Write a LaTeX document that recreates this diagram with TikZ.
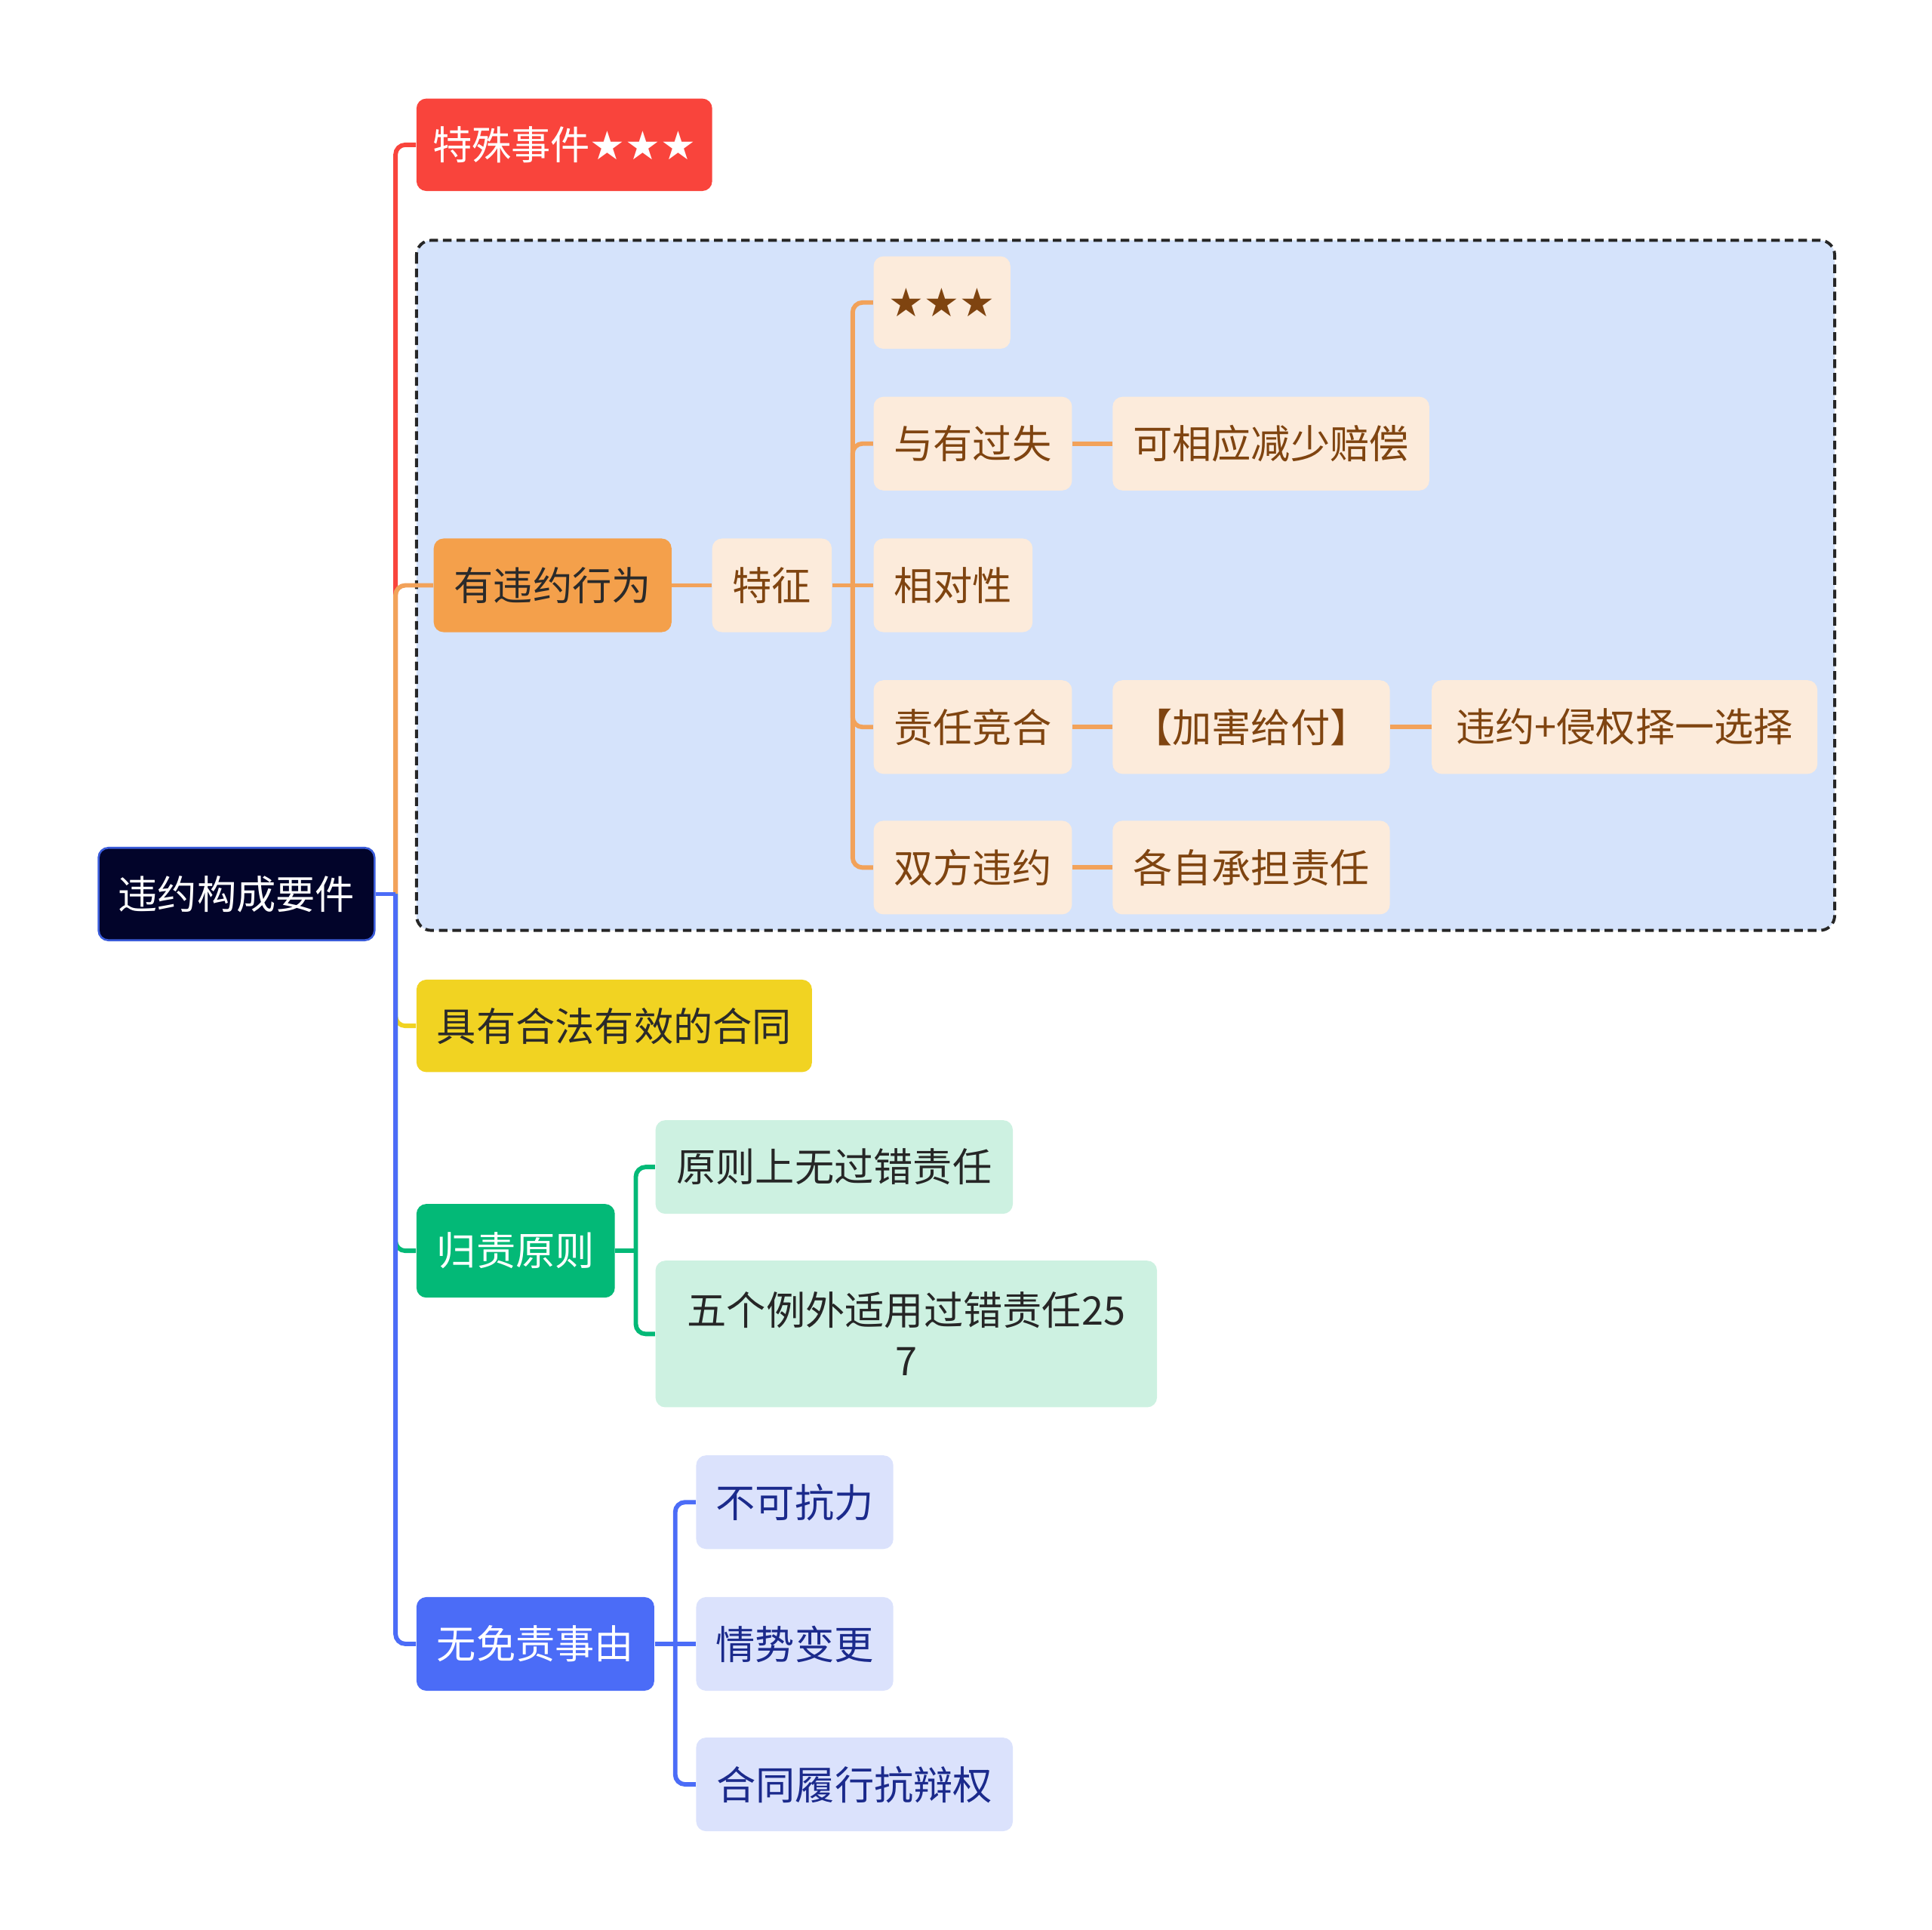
\documentclass[tikz,border=0pt]{standalone}
\usepackage{fontspec}
\newfontfamily\cjk{Noto Sans CJK SC}
\newfontfamily\symf{DejaVu Sans}
\usetikzlibrary{positioning}
\definecolor{redc}{HTML}{F9443C}
\definecolor{orangec}{HTML}{F4A04B}
\definecolor{orangel}{HTML}{F2A25A}
\definecolor{peach}{HTML}{FCEBDB}
\definecolor{brownt}{HTML}{7F4410}
\definecolor{dashfill}{HTML}{D5E3FB}
\definecolor{yellowc}{HTML}{F1D322}
\definecolor{greenc}{HTML}{03B977}
\definecolor{greenl}{HTML}{CDF1E1}
\definecolor{bluec}{HTML}{4B6CF7}
\definecolor{bluel}{HTML}{DBE2FC}
\definecolor{navyt}{HTML}{1B2A8C}
\definecolor{rootc}{HTML}{02042A}
\definecolor{rootb}{HTML}{3A5BD9}
\definecolor{darkt}{HTML}{2A2A2A}
\tikzset{
  box/.style={rounded corners=4pt, inner sep=0pt, align=center,
    font=\cjk\fontsize{16pt}{20.5pt}\selectfont},
  rootbox/.style={box, fill=rootc, draw=rootb, line width=0.8pt, text=white},
  redbox/.style={box, fill=redc, text=white},
  orangebox/.style={box, fill=orangec, text=darkt},
  peachbox/.style={box, fill=peach, text=brownt},
  yellowbox/.style={box, fill=yellowc, text=darkt},
  greenbox/.style={box, fill=greenc, text=white},
  lgreenbox/.style={box, fill=greenl, text=black!85},
  bluebox/.style={box, fill=bluec, text=white},
  lbluebox/.style={box, fill=bluel, text=navyt},
  conn/.style={line width=1.8pt, rounded corners=4pt},
}
\begin{document}
\begin{tikzpicture}[x=0.5pt,y=-0.5pt]
\useasboundingbox (0,0) rectangle (1568,1566);
% dashed group
\draw[fill=dashfill, draw=black!85, line width=1.2pt, dash pattern=on 3.5pt off 2pt, rounded corners=6pt] (338,195) rectangle (1489,755);

% nodes
\node[rootbox, minimum width=112pt, minimum height=37.5pt] (root) at (192,725.5) {违约构成要件};
\node[redbox, minimum width=120pt, minimum height=37.5pt] (spec) at (458,117.5) {特殊事件{\symf ★★★}};
\node[orangebox, minimum width=96.5pt, minimum height=38pt] (act) at (448.5,475) {有违约行为};
\node[peachbox, minimum width=48.5pt, minimum height=38pt] (feat) at (626.5,475) {特征};
\node[peachbox, minimum width=55.5pt, minimum height=37.5pt] (stars) at (764.5,245.5) {\symf ★★★};
\node[peachbox, minimum width=80.5pt, minimum height=38pt] (yy) at (789.5,360) {与有过失};
\node[peachbox, minimum width=128.5pt, minimum height=38pt] (yy2) at (1031.5,360) {可相应减少赔偿};
\node[peachbox, minimum width=64.5pt, minimum height=38pt] (rel) at (773.5,475) {相对性};
\node[peachbox, minimum width=80.5pt, minimum height=38pt] (zr) at (789.5,590) {责任竞合};
\node[peachbox, minimum width=112.5pt, minimum height=38pt] (jh) at (1015.5,590) {【加害给付】};
\node[peachbox, minimum width=156.5pt, minimum height=38pt] (wy) at (1318.5,590) {违约+侵权择一选择};
\node[peachbox, minimum width=80.5pt, minimum height=38pt] (sf) at (789.5,704) {双方违约};
\node[peachbox, minimum width=112.5pt, minimum height=38pt] (gz) at (1015.5,704) {各自承担责任};
\node[yellowbox, minimum width=160.5pt, minimum height=37.5pt] (legal) at (498.5,832.5) {具有合法有效的合同};
\node[greenbox, minimum width=80.5pt, minimum height=38pt] (gzyz) at (418.5,1015) {归责原则};
\node[lgreenbox, minimum width=145pt, minimum height=38pt] (wgc) at (677,947) {原则上无过错责任};
\node[lgreenbox, minimum width=203.5pt, minimum height=59.5pt] (wgl) at (735.5,1082.5) {五个例外适用过错责任25\\7};
\node[bluebox, minimum width=96.5pt, minimum height=38pt] (mz) at (434.5,1334) {无免责事由};
\node[lbluebox, minimum width=80pt, minimum height=38pt] (bk) at (645,1219) {不可抗力};
\node[lbluebox, minimum width=80pt, minimum height=38pt] (qs) at (645,1334) {情势变更};
\node[lbluebox, minimum width=128.5pt, minimum height=38pt] (ht) at (693.5,1448) {合同履行抗辩权};

% trunk coordinates
\coordinate (t0) at (321,725.5);
\coordinate (t1) at (692,475);
\coordinate (t2) at (516,1015);
\coordinate (t3) at (548,1334);

% main branches
\draw[conn, draw=redc] (t0) |- (spec.west);
\draw[conn, draw=orangel] (t0) |- (act.west);
\draw[conn, draw=yellowc] (t0) |- (legal.west);
\draw[conn, draw=greenc] (t0) |- (gzyz.west);
\draw[conn, draw=bluec] (t0) |- (mz.west);
\draw[conn, draw=bluec] (root.east) -- (t0);

% orange subtree
\draw[conn, draw=orangel] (act.east) -- (feat.west);
\draw[conn, draw=orangel] (feat.east) -- (t1);
\draw[conn, draw=orangel] (t1) |- (stars.west);
\draw[conn, draw=orangel] (t1) |- (yy.west);
\draw[conn, draw=orangel] (t1) -- (rel.west);
\draw[conn, draw=orangel] (t1) |- (zr.west);
\draw[conn, draw=orangel] (t1) |- (sf.west);
\draw[conn, draw=orangel] (yy.east) -- (yy2.west);
\draw[conn, draw=orangel] (zr.east) -- (jh.west);
\draw[conn, draw=orangel] (jh.east) -- (wy.west);
\draw[conn, draw=orangel] (sf.east) -- (gz.west);

% green subtree
\draw[conn, draw=greenc] (gzyz.east) -- (t2);
\draw[conn, draw=greenc] (t2) |- (wgc.west);
\draw[conn, draw=greenc] (t2) |- (wgl.west);

% blue subtree
\draw[conn, draw=bluec] (mz.east) -- (t3);
\draw[conn, draw=bluec] (t3) |- (bk.west);
\draw[conn, draw=bluec] (t3) -- (qs.west);
\draw[conn, draw=bluec] (t3) |- (ht.west);
\end{tikzpicture}
\end{document}
